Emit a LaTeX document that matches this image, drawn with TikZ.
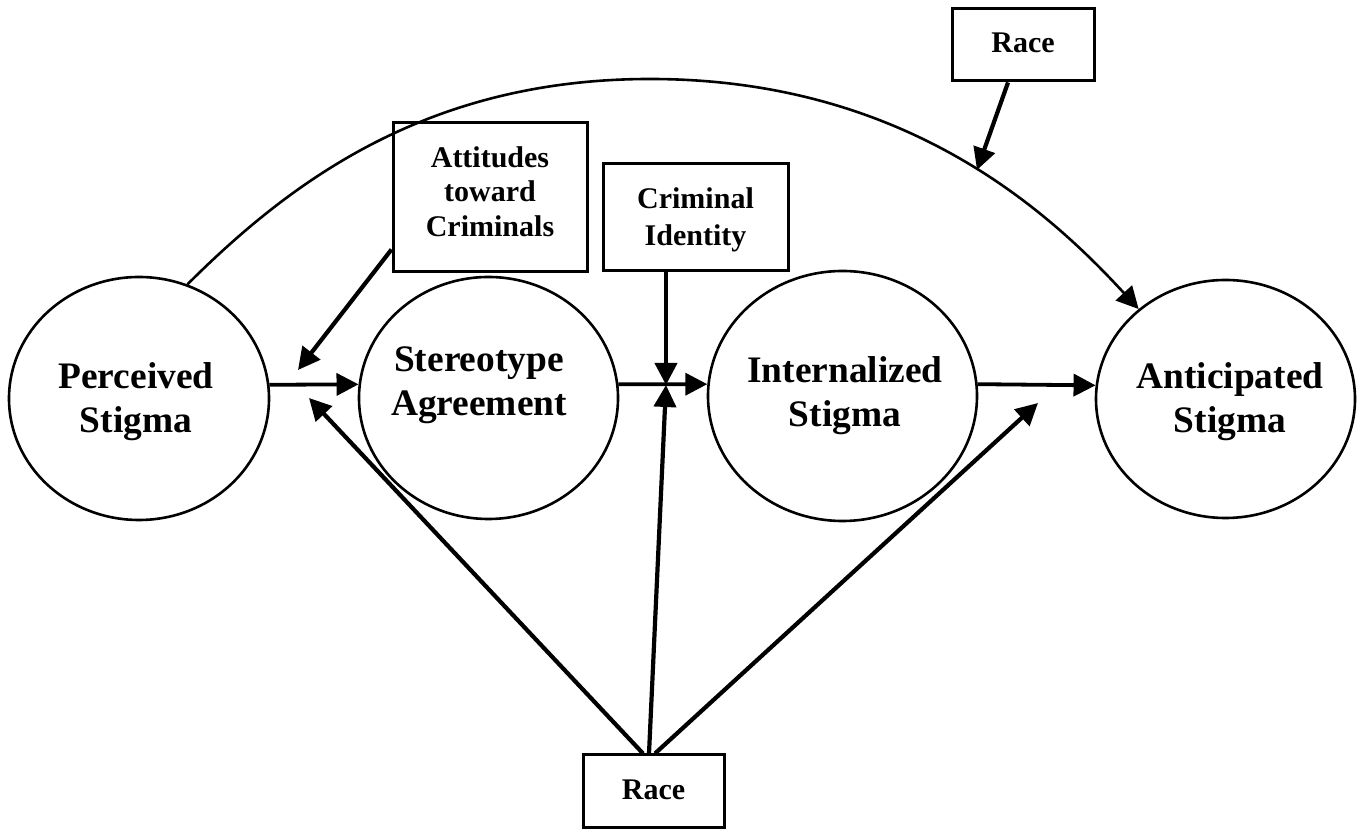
\documentclass[tikz,border=0pt]{standalone}
\usepackage{fontspec}
\setmainfont{Liberation Serif}
\usetikzlibrary{arrows.meta,shapes.geometric}
\begin{document}
\begin{tikzpicture}[x=0.5pt,y=0.5pt,
  ell/.style={draw, line width=1.3pt, ellipse, inner sep=0pt},
  big/.style={font=\fontsize{18.7}{22}\selectfont\bfseries, align=center, inner sep=0pt},
  boxn/.style={draw, line width=1.5pt, rectangle, inner sep=0pt, align=center, font=\fontsize{15}{17.3}\selectfont\bfseries},
  tip/.style={-{Triangle[length=11pt,width=11pt]}},
  arr/.style={tip, line width=2.1pt},
  hor/.style={tip, line width=1.9pt},
  arcline/.style={tip, line width=1.3pt}]
\useasboundingbox (0,0) rectangle (1360,829);

% ellipses
\node[ell, minimum width=130pt, minimum height=121.5pt] (PS) at (139,430.5) {};
\node[ell, minimum width=129.5pt, minimum height=121pt] (SA) at (488.5,431) {};
\node[ell, minimum width=134.5pt, minimum height=125pt] (IS) at (842.5,433) {};
\node[ell, minimum width=129.5pt, minimum height=119pt] (AS) at (1225.5,430) {};

% ellipse texts
\node[big] (PSt) at (136,427.5) {Perceived\\Stigma};
\node[big] (SAt) at (479,443.5) {Stereotype\\Agreement};
\node[big] (ISt) at (845,433.5) {Internalized\\Stigma};
\node[big] (ASt) at (1230,427.5) {Anticipated\\Stigma};

% boxes
\node[boxn, minimum width=97pt, minimum height=74.5pt, text depth=6pt] (ATT) at (490,631.5) {Attitudes\\toward\\Criminals};
\node[boxn, minimum width=92.5pt, minimum height=53.5pt, text depth=0.5pt, font=\fontsize{15}{18.5}\selectfont\bfseries] (CI) at (695.5,611.5) {Criminal\\Identity};
\node[boxn, minimum width=71pt, minimum height=36pt, text depth=2pt] (RT) at (1023,784) {Race};
\node[boxn, minimum width=70.5pt, minimum height=36.5pt, text depth=2pt] (RB) at (653.5,37.5) {Race};

% free arrow ends
\coordinate (tAtt) at (298,459);
\coordinate (tRT) at (977,659);
\coordinate (tX) at (666,444);
\coordinate (tL) at (309,431);
\coordinate (tR) at (1038,426);
\coordinate (arcpeak) at (650,750);

% main chain
\draw[hor] (PS.6) -- (SA.174);
\draw[hor] (SA.6) -- (IS.175);
\draw[hor] (IS.5) -- (AS.174);

% moderators
\draw[arr] ([yshift=12pt]ATT.south west) -- (tAtt);
\draw[arr] (CI.south -| tX) -- (tX);
\draw[arr] ([xshift=-5.25pt]RB.north) -- (tL);
\draw[arr] ([xshift=-2.25pt]RB.north) -- (tX);
\draw[arr] ([xshift=0.75pt]RB.north) -- (tR);
\draw[arr] ([xshift=-7.5pt]RT.south) -- (tRT);

% long arc
\draw[arcline] (PS.67) .. controls (293,650) and (430,750) .. (arcpeak)
  .. controls (900,750) and (1044,623) .. (AS.134);
\end{tikzpicture}
\end{document}
